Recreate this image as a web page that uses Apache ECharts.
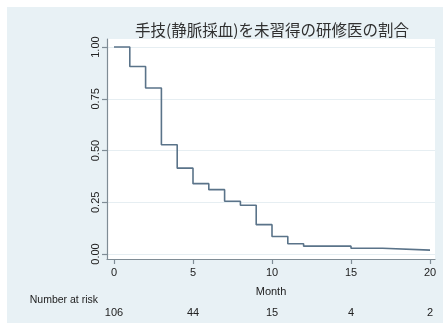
<!DOCTYPE html>
<html>
<head>
<meta charset="utf-8">
<script src="https://cdn.jsdelivr.net/npm/echarts@6/dist/echarts.min.js"></script>
<style>
html,body{margin:0;padding:0;background:#fff;width:443px;height:324px;overflow:hidden;}
#c{position:absolute;left:7px;top:7px;width:436px;height:316px;}
</style>
</head>
<body>
<div id="c"></div>
<script>
// Data
const months = [0, 1, 2, 3, 4, 5, 6, 7, 8, 9, 10, 11, 12, 15, 17, 20];
const survival = [1.000, 0.906, 0.802, 0.528, 0.415, 0.340, 0.311, 0.255, 0.236, 0.142, 0.085, 0.050, 0.038, 0.028, 0.019, 0.019];
const xTicks = [0, 5, 10, 15, 20];
const yTicks = [0, 0.25, 0.5, 0.75, 1];
const riskTimes = [0, 5, 10, 15, 20];
const riskCounts = [106, 44, 15, 4, 2];
const titleText = '手技(静脈採血)を未習得の研修医の割合';

const chart = echarts.init(document.getElementById('c'), null, {renderer: 'canvas'});
const font = 'Liberation Sans, Arial, Helvetica, sans-serif';
const axisColor = '#7f8c95';
const xMin = -0.443, xMax = 20.316;

chart.setOption({
  backgroundColor: '#e8f1f5',
  animation: false,
  textStyle: {fontFamily: font},
  grid: {left: 100, right: 8, top: 32, bottom: 64, show: true, backgroundColor: '#ffffff', borderWidth: 0},
  xAxis: [{
    type: 'value', min: xMin, max: xMax,
    name: 'Month', nameLocation: 'middle', nameGap: 27,
    nameTextStyle: {color: '#222', fontSize: 11, fontFamily: font},
    axisLine: {show: true, onZero: false, lineStyle: {color: axisColor, width: 1.2}},
    axisTick: {show: true, length: 5, customValues: xTicks, lineStyle: {color: axisColor, width: 1.2}},
    axisLabel: {show: true, customValues: xTicks, margin: 8, color: '#222', fontSize: 11, fontFamily: font},
    splitLine: {show: false}
  }, {
    type: 'value', min: xMin, max: xMax, position: 'bottom', offset: 40,
    axisLine: {show: false}, axisTick: {show: false}, splitLine: {show: false},
    axisLabel: {
      show: true, customValues: riskTimes, margin: 8, color: '#222', fontSize: 11, fontFamily: font,
      formatter: function (v) { const i = riskTimes.indexOf(v); return i >= 0 ? String(riskCounts[i]) : ''; }
    }
  }],
  yAxis: {
    type: 'value', min: -0.024, max: 1.039,
    axisLine: {show: true, onZero: false, lineStyle: {color: axisColor, width: 1.2}},
    axisTick: {show: true, length: 5, customValues: yTicks, lineStyle: {color: axisColor, width: 1.2}},
    axisLabel: {show: true, customValues: yTicks, rotate: 90, margin: 6, color: '#222', fontSize: 11, fontFamily: font,
      formatter: function (v) { return v.toFixed(2); }},
    splitLine: {show: true, lineStyle: {color: '#e6eef2', width: 1}}
  },
  graphic: [
    {type: 'text', x: 265, y: 23, style: {text: titleText, fill: '#303030', font: '15.5px "Noto Sans CJK JP", sans-serif', textAlign: 'center', textVerticalAlign: 'middle'}},
    {type: 'text', x: 91, y: 293, style: {text: 'Number at risk', fill: '#222', font: '10.5px ' + font, textAlign: 'right', textVerticalAlign: 'middle'}}
  ],
  series: [{
    type: 'line', step: 'end', xAxisIndex: 0, showSymbol: false, symbol: 'none',
    lineStyle: {color: '#5a7389', width: 1.6},
    data: months.map((m, i) => [m, survival[i]])
  }]
});
</script>
</body>
</html>
